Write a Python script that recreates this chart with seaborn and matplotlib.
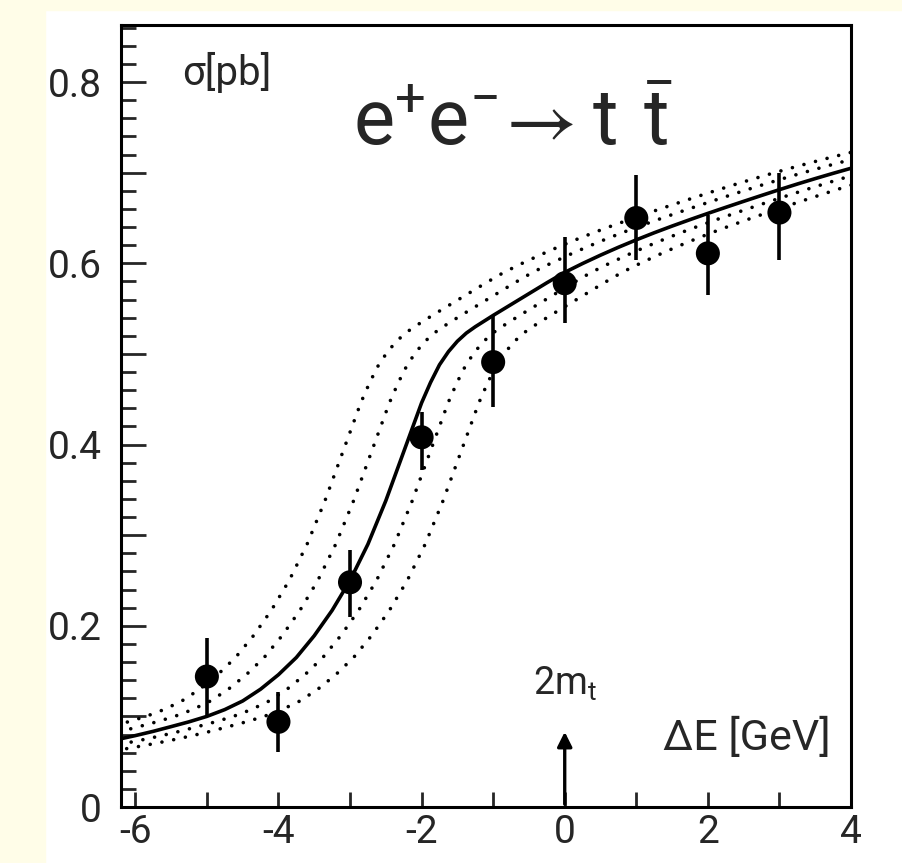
import matplotlib
matplotlib.use('Agg')
import matplotlib.pyplot as plt
from matplotlib.patches import Rectangle
from matplotlib.ticker import MultipleLocator, FuncFormatter
import seaborn as sns

# measured points
delta_e = [-5, -4, -3, -2, -1, 0, 1, 2, 3]
sigma = [0.144, 0.094, 0.248, 0.408, 0.491, 0.578, 0.650, 0.611, 0.656]
err_up = [0.043, 0.033, 0.036, 0.028, 0.052, 0.051, 0.048, 0.042, 0.044]
err_down = [0.042, 0.033, 0.038, 0.036, 0.050, 0.044, 0.046, 0.046, 0.052]

# central prediction (solid line)
curve_e = [-7.25, -7.0, -6.75, -6.5, -6.25, -6.0, -5.75, -5.5, -5.25, -5.0,
           -4.75, -4.5, -4.25, -4.0, -3.75, -3.5, -3.25, -3.0, -2.75, -2.5,
           -2.25, -2.0, -1.875, -1.75, -1.625, -1.5, -1.375, -1.25, -1.0,
           -0.75, -0.5, -0.25, 0.0,
           0.25, 0.5, 0.75, 1.0, 1.25, 1.5, 1.75, 2.0, 2.25, 2.5,
           2.75, 3.0, 3.25, 3.5, 3.75, 4.0, 4.25, 4.5, 4.75, 5.0]
curve_sigma = [0.060, 0.0633, 0.0668, 0.0705, 0.0745, 0.0788, 0.0835, 0.0887, 0.094, 0.100,
               0.1075, 0.117, 0.130, 0.146, 0.165, 0.189, 0.217, 0.250, 0.290, 0.338,
               0.392, 0.446, 0.4685, 0.488, 0.5025, 0.514, 0.523, 0.530, 0.5425,
               0.5545, 0.5665, 0.5785, 0.590,
               0.5998, 0.609, 0.6177, 0.6259, 0.6337, 0.6411, 0.6482, 0.6551, 0.6618, 0.6684,
               0.6749, 0.6813, 0.6875, 0.6935, 0.6993, 0.7049, 0.7103, 0.7155, 0.7205, 0.7253]
# dotted curves: same prediction moved along delta E
curve_shifts = [-0.85, -0.45, 0.37, 0.8]

x_labels = {-6: '-6', -4: '-4', -2: '-2', 0: '0', 2: '2', 4: '4'}
y_labels = {0: '0', 2: '0.2', 4: '0.4', 6: '0.6', 8: '0.8'}

sns.set_style('white')
plt.rcParams['font.family'] = ['Roboto', 'DejaVu Sans']
plt.rcParams['mathtext.fontset'] = 'custom'
plt.rcParams['mathtext.rm'] = 'Roboto'

fig = plt.figure(figsize=(9.02, 8.63), dpi=100)
fig.patches.append(Rectangle((0, 0), 45 / 902, 1, transform=fig.transFigure,
                             color='#FFFDE8', zorder=-10))
fig.patches.append(Rectangle((0, 1 - 10 / 863), 1, 10 / 863, transform=fig.transFigure,
                             color='#FFFDE8', zorder=-10))
ax = fig.add_axes([121 / 902, 1 - 807 / 863, 730 / 902, 782 / 863])

for s in curve_shifts:
    sns.lineplot(x=[e + s for e in curve_e], y=curve_sigma, ax=ax, color='black',
                 lw=2.6, linestyle=(0, (0.01, 3.3)), dash_capstyle='round', sort=False)
sns.lineplot(x=curve_e, y=curve_sigma, ax=ax, color='black', lw=2.6, sort=False)

ax.vlines(delta_e, [s - d for s, d in zip(sigma, err_down)],
          [s + u for s, u in zip(sigma, err_up)], color='black', lw=2.6)
sns.scatterplot(x=delta_e, y=sigma, ax=ax, color='black', s=300, edgecolor='none', zorder=5)

ax.set_xlim(-6.2, 4.0)
ax.set_ylim(0, 0.863)
ax.set_xlabel('')
ax.set_ylabel('')

ax.xaxis.set_major_locator(MultipleLocator(1))
ax.xaxis.set_major_formatter(FuncFormatter(lambda v, p: x_labels.get(int(round(v)), '')))
ax.yaxis.set_major_locator(MultipleLocator(0.1))
ax.yaxis.set_minor_locator(MultipleLocator(0.02))
ax.yaxis.set_major_formatter(FuncFormatter(lambda v, p: y_labels.get(int(round(v * 10)), '')))
ax.tick_params(axis='x', which='major', direction='in', length=11, width=2,
               labelsize=28, pad=5, top=False, bottom=True)
ax.tick_params(axis='y', which='major', direction='in', length=18, width=2,
               labelsize=28, pad=14, left=True, right=False)
ax.tick_params(axis='y', which='minor', direction='in', length=11, width=2,
               left=True, right=False)
for sp in ax.spines.values():
    sp.set_linewidth(2.2)
    sp.set_color('black')

ax.text(0.0836, 0.923, 'σ[pb]', transform=ax.transAxes, fontsize=29,
        ha='left', va='baseline')
ax.text(0.318, 0.8465, r'$\mathregular{e^{+}e^{-}\!\rightarrow t\ \bar{t}}$',
        transform=ax.transAxes, fontsize=56, ha='left', va='baseline')
ax.text(0.742, 0.073, 'ΔE [GeV]', transform=ax.transAxes, fontsize=31,
        ha='left', va='baseline')
ax.text(0, 0.124, r'2m$_\mathregular{t}$', fontsize=27, ha='center', va='baseline')
ax.annotate('', xy=(0, 0.086), xytext=(0, 0),
            arrowprops=dict(arrowstyle='-|>', lw=2.4, color='black', mutation_scale=22))

fig.savefig('out.png', dpi=100)
